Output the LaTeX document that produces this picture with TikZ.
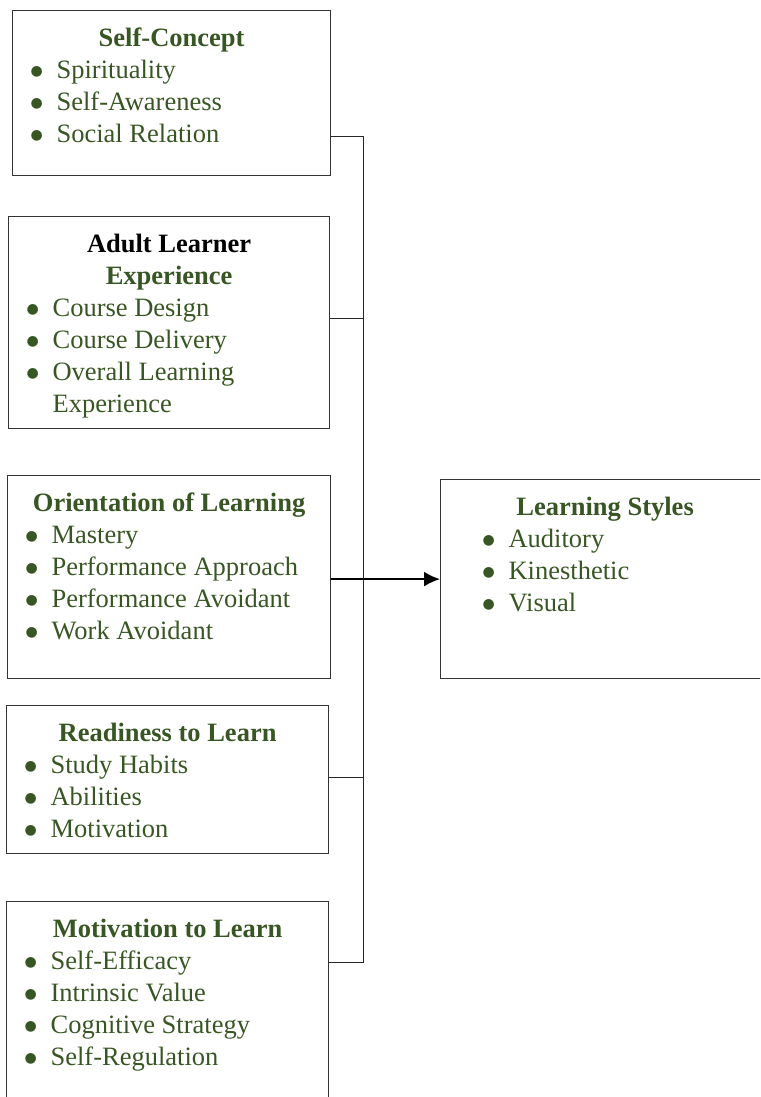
\documentclass[tikz,border=0pt]{standalone}
\usepackage{fontspec}
\setmainfont{Liberation Serif}
\newfontfamily\dotfont{DejaVu Sans}
\usetikzlibrary{arrows.meta}
\definecolor{leaf}{HTML}{385623}
% one bullet line, hanging indent for wrapped items
\newcommand{\bitem}[1]{\par\hangindent=44pt\hangafter=1\noindent
  \makebox[44pt][l]{\hspace{18pt}\raisebox{3pt}{\dotfont\fontsize{14}{14}\selectfont ●}}#1}
% box body: width, height, heading, items
\newcommand{\factortext}[4]{\begin{minipage}[t][#2][t]{#1}
  \fontsize{26.5}{32}\selectfont\color{leaf}
  \centering\rule{0pt}{36pt}\textbf{#3}\par
  \raggedright #4\end{minipage}}
\begin{document}
\begin{tikzpicture}[x=1pt,y=-1pt,
	factor/.style={draw=black!80, line width=1.2pt, inner sep=0pt, anchor=north west},
	link/.style={draw=black!85, line width=1pt},
	flow/.style={draw=black, line width=2pt, -{Latex[length=16pt,width=15pt]}}]
	\useasboundingbox (0,0) rectangle (760,1097);
	\clip (0,0) rectangle (760,1097);
	\node[factor] (self) at (12,10) {\factortext{318pt}{165pt}{Self-Concept}
		{\bitem{Spirituality}\bitem{Self-Awareness}\bitem{Social Relation}}};
	\node[factor] (adult) at (8,216) {\factortext{321pt}{212pt}{{\color{black}Adult Learner}\\Experience}
		{\bitem{Course Design}\bitem{Course Delivery}\bitem{Overall Learning\newline Experience}}};
	\node[factor] (orient) at (7,475) {\factortext{323pt}{203pt}{Orientation of Learning}
		{\bitem{Mastery}\bitem{Performance Approach}\bitem{Performance Avoidant}\bitem{Work Avoidant}}};
	\node[factor] (ready) at (6,705) {\factortext{322pt}{148pt}{Readiness to Learn}
		{\bitem{Study Habits}\bitem{Abilities}\bitem{Motivation}}};
	\node[factor] (motiv) at (6,901) {\factortext{322pt}{215pt}{Motivation to Learn}
		{\bitem{Self-Efficacy}\bitem{Intrinsic Value}\bitem{Cognitive Strategy}\bitem{Self-Regulation}}};
	\node[factor] (styles) at (440,479) {\factortext{329pt}{199pt}{Learning Styles}
		{\leftskip=24pt\bitem{Auditory}\bitem{Kinesthetic}\bitem{Visual}}};
	% bus on the right of the five boxes
	\coordinate (bustop) at (363,137);
	\coordinate (busbot) at (363,962);
	\draw[link] (self.east |- bustop) -- (bustop) -- (busbot) -- (motiv.east |- busbot);
	\draw[link] ([yshift=4pt]adult.east) -- ([yshift=4pt]adult.east -| bustop);
	\draw[link] ([yshift=2pt]ready.east) -- ([yshift=2pt]ready.east -| bustop);
	\draw[flow] (orient.east |- styles.west) -- (styles.west);
\end{tikzpicture}
\end{document}
